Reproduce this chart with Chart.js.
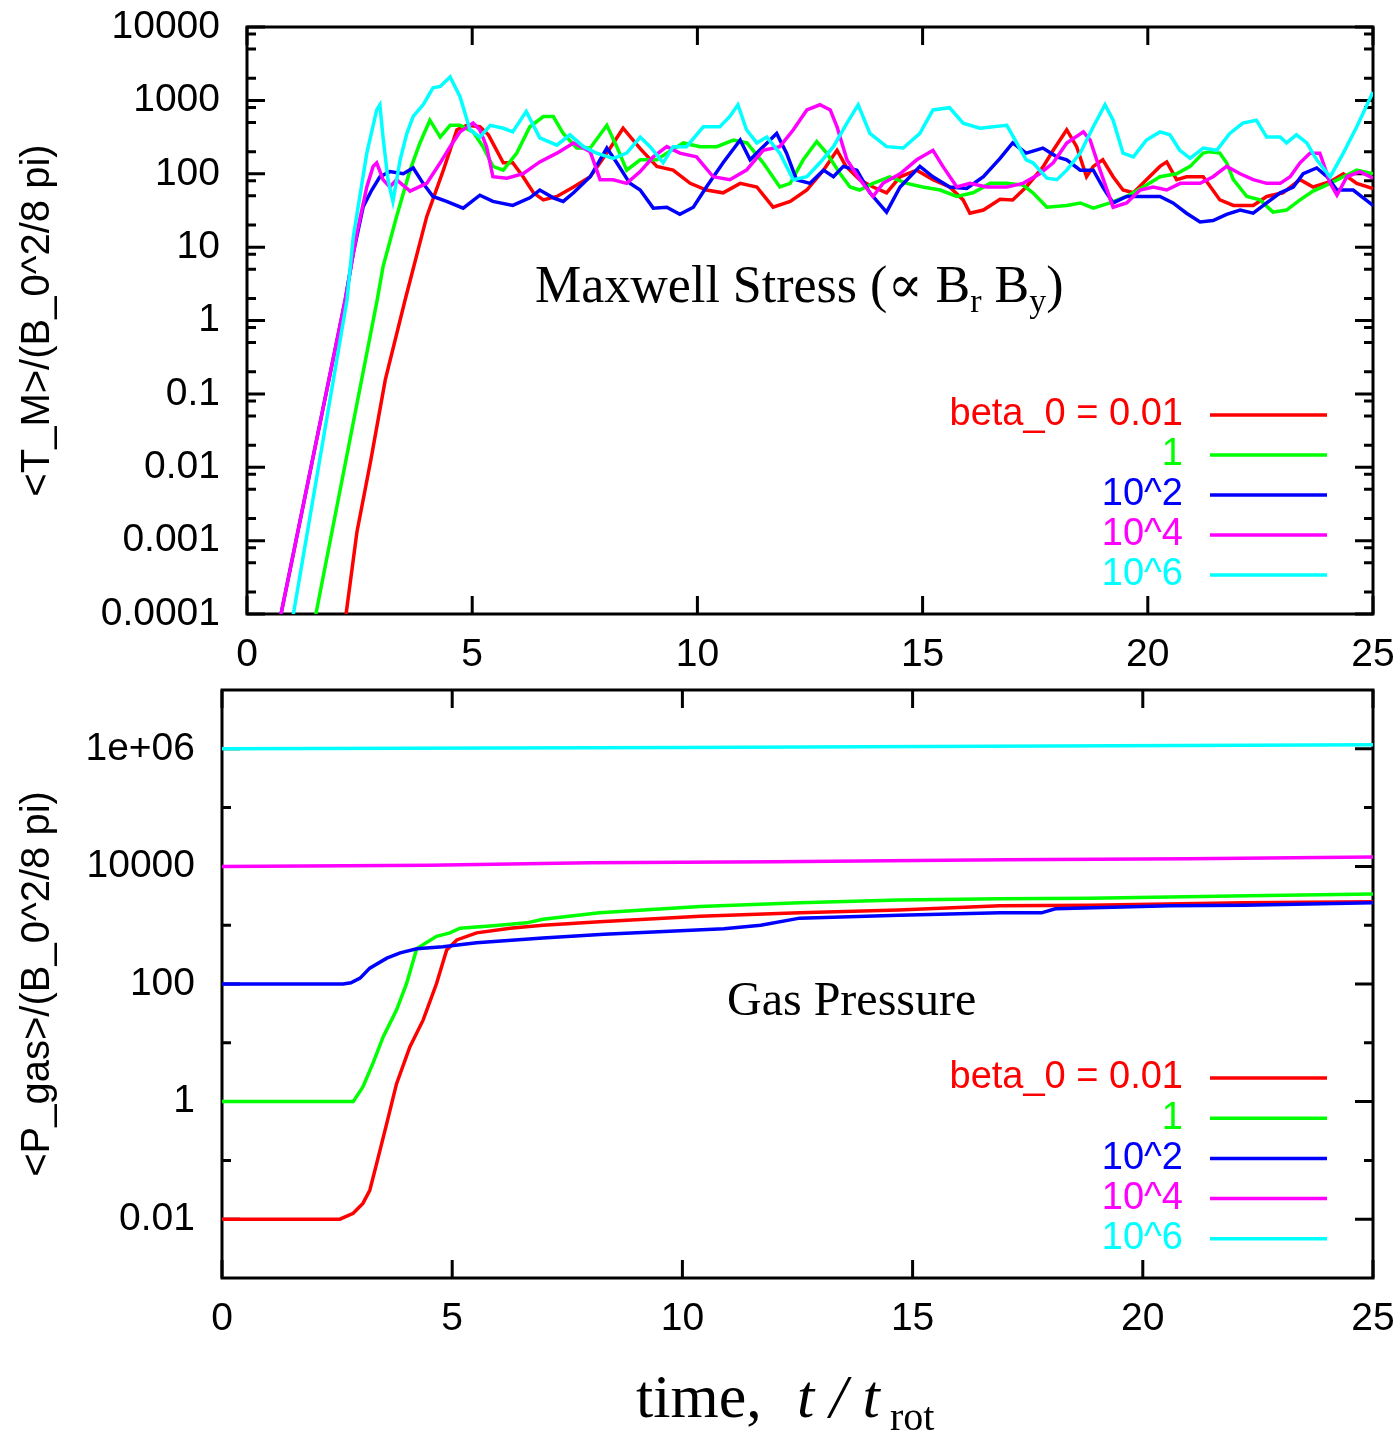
<!DOCTYPE html>
<html>
<head>
<meta charset="utf-8">
<script src="https://cdn.jsdelivr.net/npm/chart.js@4"></script>
<style>
  body { margin: 0; background: #fff; }
  canvas { position: absolute; left: 0; }
</style>
</head>
<body>
<canvas id="stressChart" width="1400" height="680" style="top:0"></canvas>
<canvas id="pressureChart" width="1400" height="760" style="top:680px"></canvas>
<script>
// Series labels / colours (same order in both panels)
const seriesLabels = ['beta_0 = 0.01', '1', '10^2', '10^4', '10^6'];
const seriesColors = ['#ff0000', '#00ff00', '#0000ff', '#ff00ff', '#00ffff'];

const xTickValues = [0, 5, 10, 15, 20, 25];

const stressTickValues = [1e-4, 1e-3, 0.01, 0.1, 1, 10, 100, 1000, 10000];
const stressTickLabels = ['0.0001', '0.001', '0.01', '0.1', '1', '10', '100', '1000', '10000'];
const stressMinorTicks = [2e-4, 5e-4, 8e-4, 2e-3, 5e-3, 8e-3, 0.02, 0.05, 0.08, 0.2, 0.5, 0.8,
                          2, 5, 8, 20, 50, 80, 200, 500, 800, 2000, 5000, 8000];

const pressureTickValues = [0.01, 1, 100, 10000, 1e6];
const pressureTickLabels = ['0.01', '1', '100', '10000', '1e+06'];
const pressureMinorTicks = [0.1, 10, 1000, 1e5];

// Maxwell stress <T_M>, [t, value]
const stressBeta001 = [[2.0, 2e-5], [2.2, 1e-4], [2.44, 1.3e-3], [2.75, 0.0126], [3.07, 0.155], [3.51, 1.9], [3.99, 26],
  [4.36, 112], [4.66, 398], [4.88, 457],
  [5.17, 437], [5.36, 339], [5.69, 141], [5.9, 141], [6.13, 91], [6.36, 55], [6.58, 44], [6.88, 49], [7.25, 66], [7.62, 91],
  [7.99, 191], [8.35, 417], [8.73, 220], [9.1, 126], [9.46, 112], [9.84, 74], [10.2, 60], [10.57, 55], [10.95, 74], [11.32, 66],
  [11.68, 35], [12.06, 42], [12.43, 60], [12.8, 112], [13.1, 209], [13.3, 126], [13.6, 83], [13.9, 66], [14.2, 55], [14.5, 91],
  [14.87, 112], [15.23, 83], [15.6, 66], [15.9, 44], [16.05, 29], [16.35, 32], [16.72, 45], [17.0, 44], [17.3, 66], [17.67, 123],
  [17.9, 209], [18.2, 398], [18.42, 234], [18.64, 91], [18.79, 126], [19.0, 155], [19.23, 91], [19.45, 60], [19.68, 55],
  [19.97, 83], [20.27, 126], [20.42, 145], [20.64, 83], [20.86, 91], [21.23, 91], [21.6, 44], [21.9, 37], [22.34, 37],
  [22.64, 49], [23.0, 55], [23.38, 83], [23.67, 66], [24.05, 78], [24.34, 100], [24.64, 74], [25.0, 63]];
const stressBeta1 = [[1.35, 2.7e-5], [1.53, 1e-4], [2.89, 1.9], [3.02, 5.4],
  [3.32, 26], [3.62, 112], [3.84, 263], [4.06, 537],
  [4.29, 316], [4.51, 457], [4.73, 457], [5.02, 372], [5.24, 234], [5.46, 126], [5.69, 112], [5.99, 191], [6.28, 437],
  [6.58, 603], [6.8, 603], [7.02, 355], [7.32, 224], [7.62, 224], [7.99, 457], [8.21, 234], [8.43, 112], [8.73, 155], [9.1, 155],
  [9.32, 191], [9.69, 263], [10.06, 234], [10.43, 234], [10.8, 288], [11.1, 263], [11.46, 141], [11.83, 66], [12.06, 74],
  [12.35, 155], [12.65, 275], [12.87, 191], [13.17, 100], [13.39, 66], [13.6, 60], [13.9, 74], [14.27, 91], [14.65, 74],
  [15.0, 66], [15.39, 60], [15.76, 49], [16.12, 55], [16.5, 74], [16.87, 74], [17.23, 70], [17.45, 55], [17.76, 35], [18.2, 37],
  [18.5, 40], [18.79, 34], [19.16, 40], [19.53, 49], [19.9, 66], [20.27, 91], [20.64, 100], [20.94, 126], [21.23, 191],
  [21.38, 200], [21.6, 191], [21.75, 141], [21.9, 83], [22.2, 49], [22.49, 44], [22.78, 30], [23.08, 32], [23.38, 44],
  [23.67, 58], [24.05, 74], [24.34, 91], [24.64, 112], [25.0, 100]];
const stressBeta1e2 = [[0.55, 2.5e-5], [0.755, 1e-4], [2.18, 1.9], [2.36, 8.3],
  [2.58, 35.5], [2.77, 60], [2.95, 91], [3.17, 107],
  [3.47, 100], [3.69, 120], [3.91, 74], [4.13, 49], [4.43, 42], [4.8, 34], [5.17, 51], [5.46, 42], [5.9, 37], [6.28, 47],
  [6.5, 60], [6.8, 47], [7.02, 42], [7.25, 55], [7.62, 91], [7.99, 224], [8.21, 141], [8.5, 74], [8.73, 60], [9.02, 34],
  [9.32, 35], [9.61, 28], [9.91, 35], [10.2, 66], [10.57, 141], [10.95, 288], [11.17, 155], [11.46, 234], [11.76, 355],
  [11.98, 191], [12.2, 83], [12.5, 74], [12.8, 112], [13.02, 91], [13.24, 126], [13.54, 112], [13.83, 55], [14.2, 30],
  [14.5, 66], [14.94, 126], [15.23, 91], [15.6, 66], [15.98, 63], [16.35, 91], [16.72, 162], [17.0, 263], [17.3, 191],
  [17.67, 224], [17.98, 170], [18.2, 155], [18.5, 112], [18.79, 112], [19.0, 66], [19.23, 40], [19.53, 49], [19.9, 49],
  [20.27, 49], [20.56, 40], [20.86, 29], [21.16, 22], [21.45, 23], [21.75, 28], [22.05, 32], [22.34, 29], [22.64, 40],
  [22.94, 55], [23.23, 66], [23.45, 100], [23.75, 120], [23.98, 91], [24.2, 60], [24.56, 60], [25.0, 37]];
const stressBeta1e4 = [[0.55, 2.5e-5], [0.755, 1e-4], [2.18, 1.9], [2.44, 15.5],
  [2.66, 66], [2.8, 126], [2.88, 141], [3.02, 83],
  [3.17, 66], [3.32, 83], [3.62, 58], [3.99, 74], [4.29, 141], [4.51, 234], [4.73, 372], [5.02, 490], [5.17, 398], [5.32, 234],
  [5.46, 91], [5.77, 87], [6.13, 100], [6.5, 145], [6.88, 191], [7.25, 263], [7.62, 200], [7.84, 83], [8.13, 83], [8.43, 74],
  [8.73, 107], [9.02, 170], [9.32, 234], [9.61, 191], [9.98, 170], [10.35, 91], [10.72, 83], [11.09, 112], [11.46, 209],
  [11.83, 234], [12.13, 398], [12.43, 741], [12.72, 871], [12.95, 741], [13.1, 437], [13.32, 155], [13.61, 83], [13.9, 49],
  [14.12, 74], [14.5, 100], [14.87, 155], [15.23, 209], [15.45, 126], [15.76, 66], [16.05, 74], [16.42, 66], [16.87, 66],
  [17.23, 74], [17.6, 100], [17.9, 141], [18.2, 263], [18.57, 372], [18.72, 288], [18.94, 112], [19.23, 35], [19.53, 40],
  [19.83, 60], [20.12, 66], [20.42, 60], [20.72, 74], [21.16, 74], [21.45, 91], [21.75, 126], [22.05, 100], [22.34, 83],
  [22.64, 74], [22.94, 74], [23.16, 91], [23.38, 141], [23.6, 191], [23.82, 191], [24.05, 74], [24.2, 51], [24.42, 91],
  [24.71, 107], [25.0, 87]];
const stressBeta1e6 = [[0.85, 2.2e-5], [1.03, 1e-4], [2.22, 1.9], [2.36, 13.8],
  [2.66, 191], [2.88, 741], [2.95, 871], [3.02, 316],
  [3.13, 83], [3.24, 42], [3.4, 155], [3.55, 355], [3.69, 603], [3.91, 871], [4.13, 1479], [4.29, 1549], [4.51, 2089],
  [4.73, 1122], [4.95, 398], [5.17, 316], [5.4, 457], [5.69, 417], [5.9, 372], [6.2, 708], [6.5, 309], [6.88, 245], [7.17, 339],
  [7.47, 234], [7.76, 191], [8.13, 162], [8.43, 191], [8.73, 316], [8.95, 234], [9.24, 141], [9.46, 234], [9.76, 234],
  [10.13, 437], [10.5, 437], [10.72, 603], [10.9, 871], [11.09, 398], [11.32, 263], [11.54, 316], [11.83, 191], [12.13, 83],
  [12.43, 91], [12.72, 141], [13.02, 234], [13.32, 490], [13.57, 871], [13.83, 355], [14.2, 234], [14.57, 224], [14.94, 355],
  [15.23, 741], [15.6, 794], [15.9, 490], [16.27, 417], [16.57, 437], [16.87, 457], [17.09, 263], [17.3, 155], [17.45, 141],
  [17.76, 87], [17.98, 83], [18.2, 112], [18.5, 191], [18.79, 437], [19.05, 871], [19.23, 537], [19.45, 191], [19.68, 170],
  [19.97, 288], [20.27, 372], [20.49, 339], [20.71, 209], [20.94, 162], [21.23, 224], [21.53, 209], [21.82, 355], [22.11, 490],
  [22.41, 537], [22.64, 316], [22.94, 316], [23.08, 263], [23.3, 339], [23.53, 263], [23.75, 155], [24.05, 91], [24.34, 191],
  [24.64, 437], [25.0, 1300]];

// Gas pressure <P_gas>, [t, value]
const pressureBeta001 = [[0, 0.01], [2.56, 0.01], [2.85, 0.0126], [3.06, 0.0186], [3.21, 0.031], [3.36, 0.089], [3.58, 0.43],
  [3.79, 2.0], [4.08, 8.5], [4.37, 24.5], [4.66, 102], [4.88, 380], [5.1, 562], [5.53, 741], [6.26, 891], [6.97, 1000],
  [8.2, 1148], [10.38, 1413], [12.55, 1622], [14.7, 1820], [16.9, 2138], [18.85, 2188], [22.2, 2399], [25, 2512]];
const pressureBeta1 = [[0, 1], [2.85, 1], [3.06, 1.78], [3.28, 4.5], [3.5, 12.6], [3.79, 36], [4.01, 102], [4.23, 400],
  [4.66, 646], [4.95, 741], [5.17, 891], [5.89, 977], [6.62, 1096], [6.97, 1259], [8.2, 1622], [10.38, 2089], [12.55, 2399],
  [14.7, 2692], [16.9, 2818], [18.85, 2884], [22.3, 3162], [25, 3388]];
const pressureBeta1e2 = [[0, 100], [2.63, 100], [2.8, 105], [3.0, 126], [3.21, 186], [3.58, 275], [3.87, 339], [4.23, 398],
  [4.8, 432], [5.53, 501], [6.97, 603], [8.3, 700], [10.9, 871], [11.7, 1000], [12.55, 1318], [14.7, 1479], [16.9, 1622],
  [17.8, 1622], [18.1, 1905], [20.6, 2138], [22.2, 2188], [25, 2399]];
const pressureBeta1e4 = [[0, 10000], [4.5, 10500], [8, 11500], [12, 12000], [17, 13000], [21, 13500], [25, 14500]];
const pressureBeta1e6 = [[0, 1e6], [10, 1.05e6], [18, 1.12e6], [25, 1.17e6]];

const sansFont = '"Liberation Sans", Arial, sans-serif';
const serifFont = '"Liberation Serif", "DejaVu Serif", serif';

function toPoints(arr) {
    return arr.map(([x, y]) => ({ x, y }));
}

// Draw a row of text pieces one after another
function drawRuns(ctx, x, y, runs) {
    runs.forEach(r => {
        ctx.font = r.font;
        ctx.fillText(r.text, x, y + (r.dy || 0));
        x += ctx.measureText(r.text).width + (r.gap || 0);
    });
}

// Chart.js adds tick padding to the layout padding; drop it so the plot box stays put
function fixBox(scale, size) {
    if (scale.isHorizontal()) scale.height = size; else scale.width = size;
    scale.paddingLeft = scale.paddingRight = scale.paddingTop = scale.paddingBottom = 0;
}

// Frame + inward ticks under the curves, legend and annotations above them
function makeDecor(cfg) {
    return {
        id: 'decor',
        beforeDatasetsDraw(chart) {
            const { ctx, chartArea: a, scales } = chart;
            ctx.save();
            ctx.strokeStyle = '#000';
            ctx.lineWidth = 3;
            ctx.strokeRect(a.left, a.top, a.right - a.left, a.bottom - a.top);

            ctx.beginPath();
            xTickValues.forEach(v => {
                const px = scales.x.getPixelForValue(v);
                ctx.moveTo(px, a.bottom); ctx.lineTo(px, a.bottom - 18);
                ctx.moveTo(px, a.top); ctx.lineTo(px, a.top + 18);
            });
            const yTick = (v, len) => {
                const py = scales.y.getPixelForValue(v);
                ctx.moveTo(a.left, py); ctx.lineTo(a.left + len, py);
                ctx.moveTo(a.right, py); ctx.lineTo(a.right - len, py);
            };
            cfg.major.forEach(v => yTick(v, 18));
            cfg.minor.forEach(v => yTick(v, 9));
            ctx.stroke();
            ctx.restore();
        },
        afterDatasetsDraw(chart) {
            const { ctx } = chart;
            ctx.save();
            // legend: right aligned label, sample line to the right
            ctx.font = '38px ' + sansFont;
            ctx.textAlign = 'right';
            ctx.textBaseline = 'middle';
            ctx.lineWidth = 3.5;
            chart.data.datasets.forEach((ds, i) => {
                const y = cfg.legendY + i * cfg.legendStep;
                ctx.fillStyle = ds.borderColor;
                ctx.fillText(ds.label, 1183, y);
                ctx.strokeStyle = ds.borderColor;
                ctx.beginPath();
                ctx.moveTo(1210, y);
                ctx.lineTo(1327, y);
                ctx.stroke();
            });

            ctx.fillStyle = '#000';
            ctx.textAlign = 'left';
            ctx.textBaseline = 'alphabetic';
            cfg.notes(ctx);
            ctx.restore();
        }
    };
}

function makeChart(id, series, opts) {
    return new Chart(document.getElementById(id), {
        type: 'line',
        data: {
            datasets: series.map((s, i) => ({
                label: seriesLabels[i],
                data: toPoints(s),
                borderColor: seriesColors[i],
                borderWidth: 3.5,
                pointRadius: 0,
                tension: 0,
                fill: false,
                clip: 0,
                order: series.length - i
            }))
        },
        options: {
            responsive: false,
            animation: false,
            devicePixelRatio: 1,
            layout: { padding: { top: opts.padTop, right: 27, left: 0, bottom: 0 } },
            plugins: { legend: { display: false }, tooltip: { enabled: false } },
            scales: {
                x: {
                    type: 'linear',
                    min: 0,
                    max: 25,
                    afterBuildTicks: (scale) => { scale.ticks = xTickValues.map(v => ({ value: v })); },
                    afterFit: (scale) => fixBox(scale, opts.xHeight),
                    grid: { display: false, drawTicks: false },
                    border: { display: false },
                    ticks: { autoSkip: false, maxRotation: 0, padding: 18, color: '#000', font: { family: sansFont, size: 39 } }
                },
                y: {
                    type: 'logarithmic',
                    min: opts.yMin,
                    max: opts.yMax,
                    afterBuildTicks: (scale) => { scale.ticks = opts.tickValues.map(v => ({ value: v })); },
                    afterFit: (scale) => fixBox(scale, opts.yWidth),
                    grid: { display: false, drawTicks: false },
                    border: { display: false },
                    ticks: {
                        autoSkip: false,
                        padding: 27,
                        color: '#000',
                        font: { family: sansFont, size: 39 },
                        callback: (v) => {
                            const i = opts.tickValues.indexOf(v);
                            return i >= 0 ? opts.tickLabels[i] : '';
                        }
                    },
                    title: {
                        display: true,
                        text: opts.yTitle,
                        color: '#000',
                        font: { family: sansFont, size: 40 },
                        padding: { top: 14, bottom: 0 }
                    }
                }
            }
        },
        plugins: [makeDecor(opts.decor)]
    });
}

makeChart('stressChart',
    [stressBeta001, stressBeta1, stressBeta1e2, stressBeta1e4, stressBeta1e6],
    {
        padTop: 27, xHeight: 66, yWidth: 247, yMin: 1e-4, yMax: 1e4,
        tickValues: stressTickValues, tickLabels: stressTickLabels,
        yTitle: '<T_M>/(B_0^2/8 pi)',
        decor: {
            major: stressTickValues, minor: stressMinorTicks,
            legendY: 415, legendStep: 40,
            notes: (ctx) => {
                const big = '52px ' + serifFont, small = '34px ' + serifFont;
                drawRuns(ctx, 535, 302, [
                    { text: 'Maxwell Stress (', font: big },
                    { text: '\u221D', font: big },
                    { text: ' B', font: big },
                    { text: 'r', font: small, dy: 10 },
                    { text: ' B', font: big },
                    { text: 'y', font: small, dy: 10 },
                    { text: ')', font: big }
                ]);
            }
        }
    });

makeChart('pressureChart',
    [pressureBeta001, pressureBeta1, pressureBeta1e2, pressureBeta1e4, pressureBeta1e6],
    {
        padTop: 10, xHeight: 162, yWidth: 222, yMin: 1e-3, yMax: 1e7,
        tickValues: pressureTickValues, tickLabels: pressureTickLabels,
        yTitle: '<P_gas>/(B_0^2/8 pi)',
        decor: {
            major: pressureTickValues, minor: pressureMinorTicks,
            legendY: 398, legendStep: 40.2,
            notes: (ctx) => {
                ctx.font = '48px ' + serifFont;
                ctx.fillText('Gas Pressure', 727, 335);
                // x axis title shared by both panels
                ctx.font = '62px ' + serifFont;
                ctx.fillText('time,', 636, 737);
                ctx.font = 'italic 62px ' + serifFont;
                ctx.fillText('t / t', 797, 737);
                ctx.font = '40px ' + serifFont;
                ctx.fillText('rot', 890, 750);
            }
        }
    });
</script>
</body>
</html>
